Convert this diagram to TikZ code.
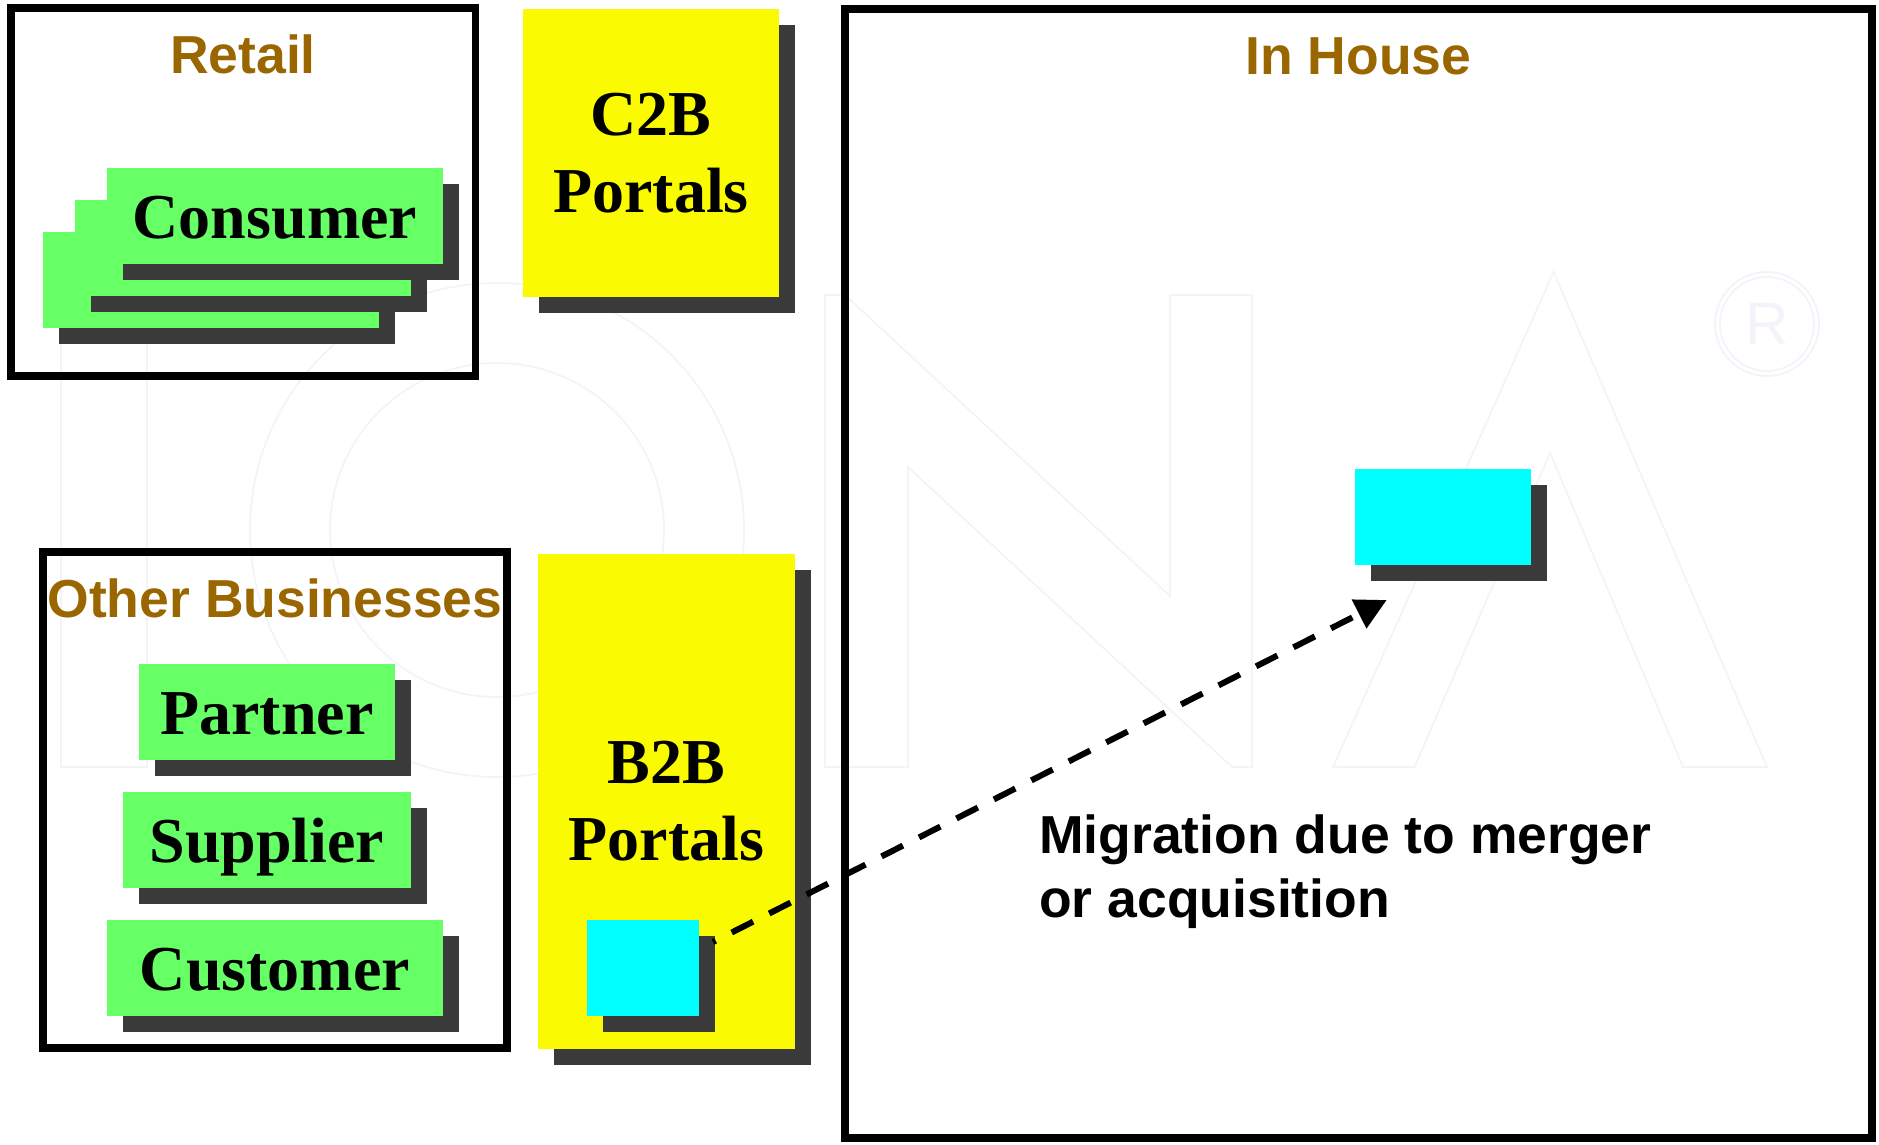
\documentclass[tikz,border=0pt]{standalone}
\usepackage{fontspec}
\setmainfont{Liberation Serif}
\newfontfamily\hfont{Liberation Sans}
\usetikzlibrary{shadows,arrows.meta}
\definecolor{hbrown}{RGB}{153,102,0}
\definecolor{cardgreen}{RGB}{102,255,102}
\definecolor{portalyellow}{RGB}{250,251,0}
\definecolor{cyanbox}{RGB}{0,255,255}
\definecolor{shadowgray}{RGB}{58,58,58}
\definecolor{wmark}{RGB}{243,244,250}
\begin{document}
\begin{tikzpicture}[x=1pt,y=-1pt,
  frame/.style={draw=black, line width=7.5pt, inner sep=0pt},
  shd/.style={drop shadow={shadow xshift=16pt, shadow yshift=-16pt, opacity=1, fill=shadowgray}},
  card/.style={shd, fill=cardgreen, minimum height=96pt, inner sep=0pt,
    text height=44pt, text depth=0pt, font=\fontsize{64}{76.5}\selectfont\bfseries},
  portal/.style={shd, fill=portalyellow, inner sep=0pt, align=center,
    font=\fontsize{64}{76.5}\selectfont\bfseries},
  cybox/.style={shd, fill=cyanbox, inner sep=0pt, minimum height=96pt},
  heading/.style={font=\hfont\fontsize{53.5}{64}\selectfont\bfseries, text=hbrown, inner sep=0pt, anchor=base},
  wm/.style={draw=wmark, line width=1.8pt, line join=miter},
  migr/.style={line width=6pt, dash pattern=on 24pt off 18pt, dash phase=21pt,
    -{Triangle[length=31pt,width=31pt]}}
]
\useasboundingbox (0,0) rectangle (1879,1144);

% faint watermark (IONA logo)
\draw[wm] (61,295) rectangle (147,767);
\draw[wm] (497,530) circle[radius=247pt];
\draw[wm] (497,530) circle[radius=167pt];
\draw[wm] (825,767) -- (825,295) -- (845,295) -- (1170,596) -- (1170,295) -- (1252,295)
  -- (1252,767) -- (1232,767) -- (908,467) -- (908,767) -- cycle;
\draw[wm] (1333,767) -- (1553.6,272) -- (1767,767) -- (1683,767) -- (1550,453)
  -- (1414.6,767) -- cycle;
\draw[wm] (1767,324) circle[radius=52pt];
\draw[wm] (1767,324) circle[radius=47pt];
\node[text=wmark, font=\hfont\fontsize{60}{60}\selectfont, inner sep=0pt] (wmr) at (1767,324) {R};

% Retail group
\node[frame, minimum width=464.5pt, minimum height=367.75pt] (retail) at (243,192.1) {};
\node[heading] (retailt) at (243,73) {Retail};
\node[card, minimum width=336pt] (cons3) at (211,280) {};
\node[card, minimum width=336pt] (cons2) at (243,248) {};
\node[card, minimum width=336pt] (cons1) at (275,216) {Consumer};

% C2B portal
\node[portal, minimum width=256pt, minimum height=288pt] (c2b) at (651,153) {C2B\\Portals};

% Other businesses group
\node[frame, minimum width=464.25pt, minimum height=496.25pt] (other) at (274.9,799.9) {};
\node[heading] (othert) at (275,617) {Other Businesses};
\node[card, minimum width=256pt] (partner) at (267,712) {Partner};
\node[card, minimum width=288pt] (supplier) at (267,840) {Supplier};
\node[card, minimum width=336pt] (customer) at (275,968) {Customer};

% B2B portal
\node[portal, minimum width=257pt, minimum height=495pt] (b2b) at (666.5,801) {B2B\\Portals};
\node[cybox, minimum width=112pt] (small) at (643,968) {};

% In House
\node[frame, minimum width=1027.25pt, minimum height=1129.25pt] (inhouse) at (1358.4,573.4) {};
\node[heading] (inhouset) at (1358.5,74) {In House};
\node[cybox, minimum width=176pt] (big) at (1443,516.5) {};

% migration arrow
\coordinate (mstart) at (713,942);
\coordinate (mend) at (1386.7,600);
\draw[migr] (mstart) -- (mend);
\node[anchor=base west, align=left, inner sep=0pt,
  font=\hfont\fontsize{53.5}{64}\selectfont\bfseries] (migt) at (1039,917)
  {Migration due to merger\\or acquisition};
\end{tikzpicture}
\end{document}
